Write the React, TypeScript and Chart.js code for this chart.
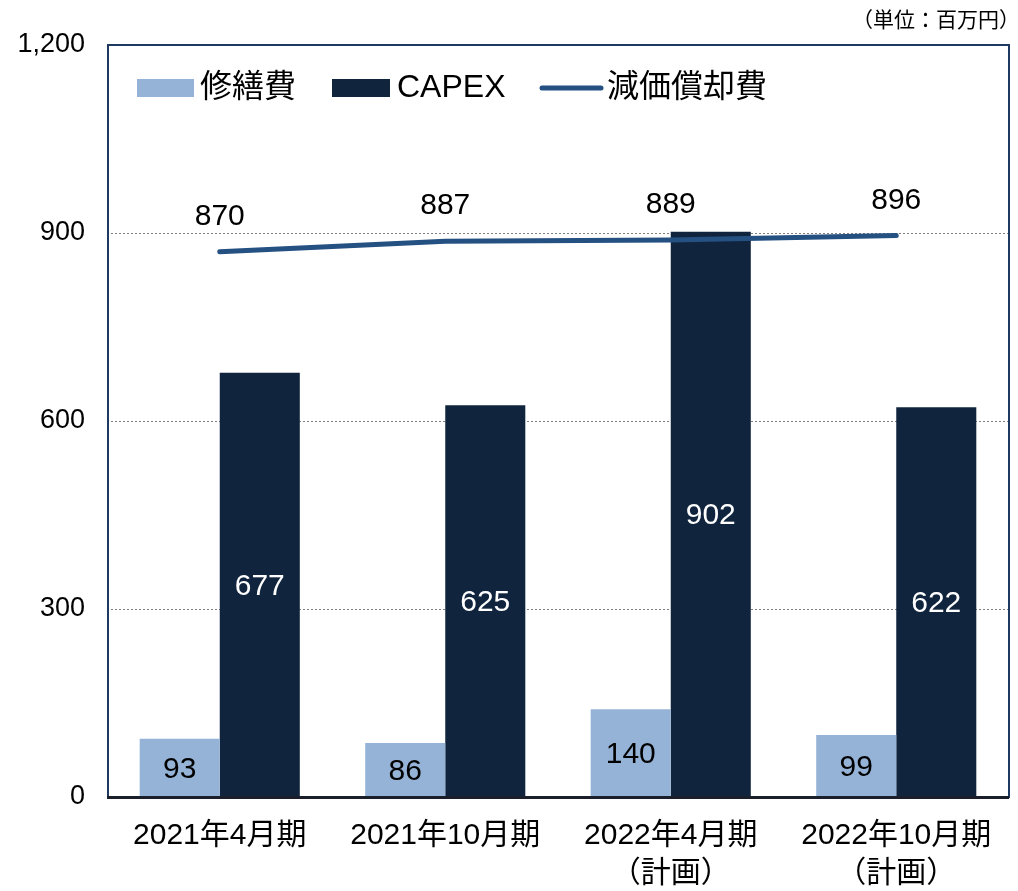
import React, { useEffect, useRef } from "react";
import { Chart, registerables } from "chart.js";

Chart.register(...registerables);

const categories: string[][] = [
  ["2021年4月期"],
  ["2021年10月期"],
  ["2022年4月期", "（計画）"],
  ["2022年10月期", "（計画）"],
];
const repairValues = [93, 86, 140, 99];
const capexValues = [677, 625, 902, 622];
const depreciationValues = [870, 887, 889, 896];
const yTickValues = [0, 300, 600, 900, 1200];
const seriesNames = ["修繕費", "CAPEX", "減価償却費"];
const unitLabel = "（単位：百万円）";

const LIGHT = "#95B3D7";
const DARK = "#10243E";
const LINE = "#245082";
const FRAME = "#1F3A60";
const FONT = '"Liberation Sans", Arial, "Noto Sans CJK JP", sans-serif';

const overlayPlugin = {
  id: "overlay",
  afterDatasetsDraw(chart: any) {
    const ctx = chart.ctx as CanvasRenderingContext2D;
    const { left, right, top, bottom } = chart.chartArea;
    ctx.save();
    // frame
    ctx.strokeStyle = FRAME;
    ctx.lineWidth = 2;
    ctx.strokeRect(left + 1, top, right - left - 1, bottom - top);
    // bottom axis line
    ctx.strokeStyle = "#1a1f2b";
    ctx.lineWidth = 3;
    ctx.beginPath();
    ctx.moveTo(left, bottom + 0.5);
    ctx.lineTo(right, bottom + 0.5);
    ctx.stroke();

    // data labels
    ctx.font = `30px ${FONT}`;
    ctx.textAlign = "center";
    ctx.textBaseline = "middle";
    chart.data.datasets.forEach((ds: any, i: number) => {
      const meta = chart.getDatasetMeta(i);
      meta.data.forEach((el: any, j: number) => {
        const v = ds.data[j];
        if (ds.type === "line") {
          ctx.fillStyle = "#000";
          ctx.fillText(String(v), el.x, el.y - 35);
        } else {
          ctx.fillStyle = ds.labelColor;
          ctx.fillText(String(v), el.x, (el.y + el.base) / 2 + 2);
        }
      });
    });

    // legend
    const ly = top + 43;
    ctx.font = `32px ${FONT}`;
    ctx.textAlign = "left";
    ctx.fillStyle = LIGHT;
    ctx.fillRect(left + 30, ly - 9, 57, 18);
    ctx.fillStyle = "#000";
    ctx.fillText(seriesNames[0], left + 93, ly);
    ctx.fillStyle = DARK;
    ctx.fillRect(left + 225, ly - 9, 58, 18);
    ctx.fillStyle = "#000";
    ctx.fillText(seriesNames[1], left + 290, ly);
    ctx.strokeStyle = LINE;
    ctx.lineWidth = 5;
    ctx.lineCap = "round";
    ctx.beginPath();
    ctx.moveTo(left + 435, ly);
    ctx.lineTo(left + 494, ly);
    ctx.stroke();
    ctx.fillStyle = "#000";
    ctx.fillText(seriesNames[2], left + 500, ly);

    // unit label
    ctx.font = `21px ${FONT}`;
    ctx.textAlign = "right";
    ctx.fillText(unitLabel, chart.width + 2, 21);
    ctx.restore();
  },
};

export default function App() {
  const ref = useRef<HTMLCanvasElement | null>(null);
  useEffect(() => {
    if (!ref.current) return;
    const chart = new Chart(ref.current, {
      type: "bar",
      data: {
        labels: categories as any,
        datasets: [
          {
            type: "line",
            label: seriesNames[2],
            data: depreciationValues,
            borderColor: LINE,
            borderWidth: 5,
            borderCapStyle: "round",
            pointRadius: 0,
            tension: 0,
            order: 0,
          } as any,
          {
            type: "bar",
            label: seriesNames[0],
            data: repairValues,
            backgroundColor: LIGHT,
            borderWidth: 0,
            categoryPercentage: 0.71,
            barPercentage: 1.0,
            labelColor: "#000",
            order: 1,
          } as any,
          {
            type: "bar",
            label: seriesNames[1],
            data: capexValues,
            backgroundColor: DARK,
            borderWidth: 0,
            categoryPercentage: 0.71,
            barPercentage: 1.0,
            labelColor: "#fff",
            order: 1,
          } as any,
        ],
      },
      options: {
        animation: false,
        responsive: false,
        maintainAspectRatio: false,
        layout: { padding: { top: 45, right: 9, left: 0, bottom: 0 } },
        plugins: {
          legend: { display: false },
          tooltip: { enabled: false },
          title: { display: false },
        },
        scales: {
          x: {
            grid: { display: false, drawTicks: false },
            border: { display: false },
            ticks: {
              color: "#000",
              padding: 20,
              maxRotation: 0,
              autoSkip: false,
              font: { family: FONT, size: 30, lineHeight: 38 / 30 },
            },
            afterFit: (s: any) => {
              s.height = 94;
            },
          },
          y: {
            min: 0,
            max: 1200,
            grid: { color: "#7f7f7f", lineWidth: 1, drawTicks: false },
            border: { display: false, dash: [2, 2] },
            ticks: {
              color: "#000",
              padding: 22,
              font: { family: FONT, size: 27 },
              callback: (v: any) => Number(v).toLocaleString("en-US"),
            },
            afterBuildTicks: (s: any) => {
              s.ticks = yTickValues.map((v) => ({ value: v }));
            },
            afterFit: (s: any) => {
              s.width = 107;
            },
          },
        },
      },
      plugins: [overlayPlugin],
    });
    return () => chart.destroy();
  }, []);
  return (
    <div style={{ position: "fixed", left: 0, top: 0, width: 1018, height: 891, background: "#fff" }}>
      <canvas ref={ref} width={1018} height={891} style={{ display: "block" }} />
    </div>
  );
}
